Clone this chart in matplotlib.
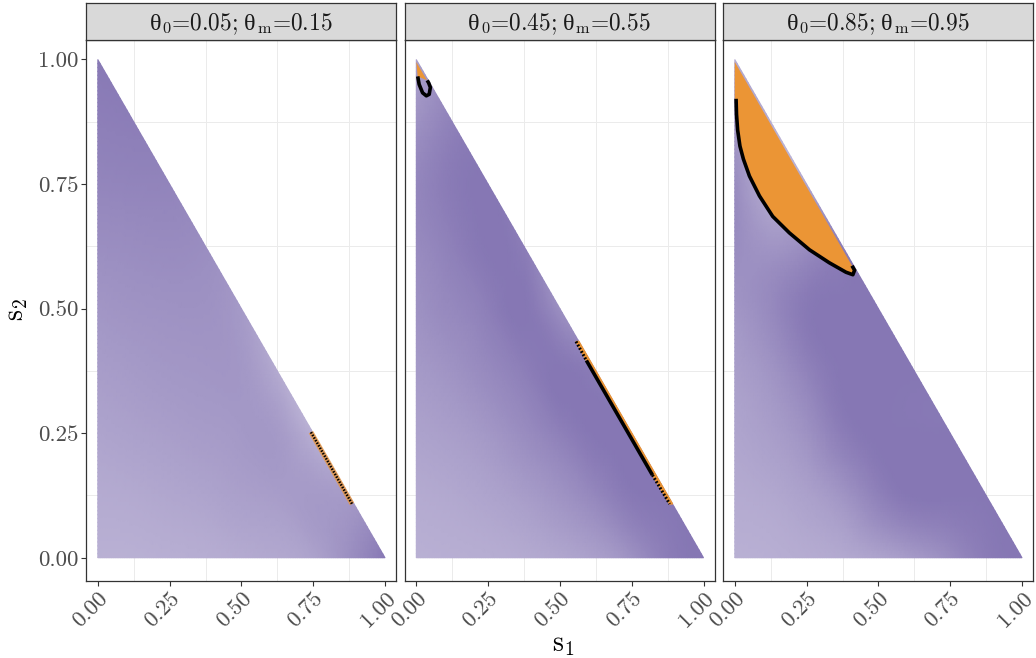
import numpy as np
import matplotlib
matplotlib.use("Agg")
import matplotlib.pyplot as plt
import matplotlib.tri as mtri
from matplotlib.colors import LinearSegmentedColormap
from matplotlib.patches import Polygon
from matplotlib.offsetbox import TextArea, HPacker, AnchoredOffsetbox

plt.rcParams['font.family'] = ['cmr10']
plt.rcParams['mathtext.fontset'] = 'cm'
plt.rcParams['axes.formatter.use_mathtext'] = True

# ---------------- data ----------------
theta0_values = ['0.05', '0.45', '0.85']
thetam_values = ['0.15', '0.55', '0.95']
tick_values = [0.0, 0.25, 0.5, 0.75, 1.0]
tick_labels = ['0.00', '0.25', '0.50', '0.75', '1.00']
grid_step = 0.125  # shade values sampled on s1 = i*step, s2 = j*step (i + j <= 8)

# shade intensity (0 = white, 1 = full purple); each row is one s2 level, s1 from 0 upward
shade_p1 = [
    [0.58, 0.58, 0.59, 0.60, 0.62, 0.64, 0.68, 0.82, 0.99],
    [0.62, 0.63, 0.65, 0.67, 0.70, 0.72, 0.74, 0.74],
    [0.67, 0.69, 0.71, 0.73, 0.75, 0.74, 0.58],
    [0.72, 0.74, 0.76, 0.77, 0.76, 0.62],
    [0.77, 0.79, 0.80, 0.80, 0.74],
    [0.83, 0.84, 0.85, 0.83],
    [0.89, 0.90, 0.90],
    [0.94, 0.95],
    [0.98],
]
shade_p2 = [
    [0.58, 0.59, 0.60, 0.62, 0.65, 0.70, 0.80, 0.95, 1.00],
    [0.62, 0.64, 0.67, 0.72, 0.79, 0.88, 0.98, 1.00],
    [0.68, 0.71, 0.76, 0.84, 0.93, 1.00, 1.00],
    [0.74, 0.79, 0.86, 0.94, 1.00, 0.95],
    [0.80, 0.87, 0.94, 1.00, 0.82],
    [0.85, 0.93, 1.00, 0.95],
    [0.88, 0.97, 1.00],
    [0.80, 0.92],
    [0.70],
]
shade_p3 = [
    [0.58, 0.59, 0.61, 0.63, 0.67, 0.74, 0.84, 0.96, 1.00],
    [0.62, 0.64, 0.69, 0.78, 0.92, 1.00, 1.00, 1.00],
    [0.66, 0.71, 0.80, 0.95, 1.00, 1.00, 1.00],
    [0.71, 0.78, 0.91, 1.00, 1.00, 1.00],
    [0.77, 0.86, 0.98, 1.00, 1.00],
    [0.84, 0.78, 0.84, 0.95],
    [0.84, 0.62, 0.65],
    [0.75, 0.60],
    [0.60],
]
shades = [shade_p1, shade_p2, shade_p3]

# boundary curves (s1, s2)
curve_p1_s1 = [0.742, 0.800, 0.885]
curve_p1_s2 = [0.252, 0.194, 0.108]

curve_p2a_s1 = [0.005, 0.010, 0.022, 0.035, 0.045, 0.049, 0.043, 0.038]
curve_p2a_s2 = [0.966, 0.950, 0.933, 0.927, 0.930, 0.944, 0.953, 0.958]
curve_p2b_s1 = [0.556, 0.592, 0.700, 0.822, 0.882]
curve_p2b_s2 = [0.434, 0.396, 0.288, 0.166, 0.108]

curve_p3_s1 = [0.0045, 0.006, 0.010, 0.018, 0.030, 0.051, 0.086, 0.132, 0.190, 0.260, 0.329, 0.387, 0.411, 0.417, 0.408]
curve_p3_s2 = [0.921, 0.890, 0.858, 0.826, 0.800, 0.766, 0.726, 0.685, 0.652, 0.618, 0.592, 0.573, 0.568, 0.577, 0.586]

ORANGE = '#EB9535'
PURPLE = '#8677B4'

# ---------------- layout ----------------
W, H = 1036, 658
fig = plt.figure(figsize=(W / 100, H / 100), dpi=100)
panel_left = [86, 404.5, 723]
panel_w = 310
panel_top, panel_bot = 39.5, 580.5
strip_top = 3

cmap = LinearSegmentedColormap.from_list('pur', ['#FFFFFF', PURPLE])
cmap.set_over(PURPLE)
cmap.set_under('#FFFFFF')

def rows_to_points(rows):
    xs, ys, zs = [], [], []
    for j, row in enumerate(rows):
        for i, v in enumerate(row):
            xs.append(i * grid_step)
            ys.append(j * grid_step)
            zs.append(v)
    return np.array(xs), np.array(ys), np.array(zs)

STRIP_FS = 16.8
greek_props = dict(family=['Liberation Serif'], size=STRIP_FS + 0.6, color='#1A1A1A')
txt_props = dict(family=['cmr10'], size=STRIP_FS, color='#1A1A1A')

axes = []
for k in range(3):
    l = panel_left[k]
    ax = fig.add_axes([l / W, (H - panel_bot) / H, panel_w / W, (panel_bot - panel_top) / H])
    axes.append(ax)
    ax.set_xlim(-0.041, 1.038)
    ax.set_ylim(-0.0456, 1.040)
    ax.set_facecolor('white')
    ax.set_xticks(tick_values)
    ax.set_xticklabels(tick_labels, rotation=45, ha='right', va='top', rotation_mode='anchor')
    ax.set_xticks([0.125, 0.375, 0.625, 0.875], minor=True)
    ax.set_yticks(tick_values)
    ax.set_yticks([0.125, 0.375, 0.625, 0.875], minor=True)
    ax.grid(True, which='major', color='#EBEBEB', lw=1.3, zorder=0)
    ax.grid(True, which='minor', color='#EBEBEB', lw=0.7, zorder=0)
    ax.set_axisbelow(True)
    ax.tick_params(axis='both', which='major', labelsize=16.5, colors='#333333', labelcolor='#4D4D4D',
                   length=3.5, width=0.8, pad=2)
    ax.tick_params(axis='both', which='minor', length=0)
    if k == 0:
        ax.set_yticklabels(tick_labels)
    else:
        ax.set_yticklabels([])
        ax.tick_params(axis='y', which='both', length=0)
    for sp in ax.spines.values():
        sp.set_color('#333333')
        sp.set_linewidth(0.9)

    xs, ys, zs = rows_to_points(shades[k])
    tri = mtri.Triangulation(xs, ys)
    refiner = mtri.UniformTriRefiner(tri)
    tri_f, z_f = refiner.refine_field(zs, subdiv=4)
    ax.tripcolor(tri_f, z_f, shading='gouraud', cmap=cmap, vmin=0, vmax=1, zorder=1, rasterized=True)

    # strip
    sax = fig.add_axes([l / W, (H - panel_top) / H, panel_w / W, (panel_top - strip_top) / H])
    sax.set_facecolor('#D9D9D9')
    sax.set_xticks([]); sax.set_yticks([])
    for sp in sax.spines.values():
        sp.set_color('#333333'); sp.set_linewidth(0.9)
    pieces = [
        TextArea('θ', textprops=greek_props),
        TextArea(r'$_0$=' + theta0_values[k] + ';', textprops=txt_props),
        TextArea(' θ', textprops=greek_props),
        TextArea(r'$_\mathrm{m}$=' + thetam_values[k], textprops=txt_props),
    ]
    box = HPacker(children=pieces, align='baseline', pad=0, sep=0)
    anc = AnchoredOffsetbox(loc='center', child=box, pad=0, borderpad=0, frameon=False,
                            bbox_to_anchor=(0.5, 0.42), bbox_transform=sax.transAxes)
    sax.add_artist(anc)

# ---- panel 1 boundary ----
ax = axes[0]
ax.plot(curve_p1_s1, curve_p1_s2, color=ORANGE, lw=3.6, alpha=0.75, zorder=3, solid_capstyle='butt')
ax.plot(curve_p1_s1, curve_p1_s2, color='black', lw=1.8, ls=(0, (0.6, 0.6)), zorder=4)

# ---- panel 2 boundaries ----
ax = axes[1]
top_poly = [(0, 0.995), (curve_p2a_s1[0], curve_p2a_s2[0]),
            (curve_p2a_s1[-1], curve_p2a_s2[-1]), (0.995 - curve_p2a_s2[-1], curve_p2a_s2[-1])]
ax.add_patch(Polygon(top_poly, closed=True, facecolor=ORANGE, edgecolor='none', zorder=2))
ax.plot(curve_p2a_s1, curve_p2a_s2, color='black', lw=2.6, zorder=4, solid_capstyle='butt')

strip_pts = list(zip(curve_p2b_s1, curve_p2b_s2)) + [(1 - y, y) for y in curve_p2b_s2[::-1]]
ax.add_patch(Polygon(strip_pts, closed=True, facecolor=ORANGE, edgecolor=ORANGE, lw=1.0, zorder=2))
ax.plot(curve_p2b_s1[1:-1], curve_p2b_s2[1:-1], color='black', lw=2.6, zorder=4, solid_capstyle='butt')
ax.plot(curve_p2b_s1[:2], curve_p2b_s2[:2], color='black', lw=2.2, ls=(0, (0.6, 0.6)), zorder=4)
ax.plot(curve_p2b_s1[-2:], curve_p2b_s2[-2:], color='black', lw=2.2, ls=(0, (0.6, 0.6)), zorder=4)

# ---- panel 3 boundary ----
ax = axes[2]
poly = [(0, 0.995)] + [(0, curve_p3_s2[0])] + list(zip(curve_p3_s1, curve_p3_s2))
ax.add_patch(Polygon(poly, closed=True, facecolor=ORANGE, edgecolor='none', zorder=2))
ax.plot(curve_p3_s1, curve_p3_s2, color='black', lw=2.6, zorder=4, solid_capstyle='butt',
        solid_joinstyle='round')

# axis titles
fig.text(563 / W, 1 - 645 / H, r'$\mathrm{s}_1$', ha='center', va='center', fontsize=20)
fig.text(17 / W, 1 - 310 / H, r'$\mathrm{s}_2$', ha='center', va='center', fontsize=20, rotation=90)

fig.savefig('out.png', dpi=100)
